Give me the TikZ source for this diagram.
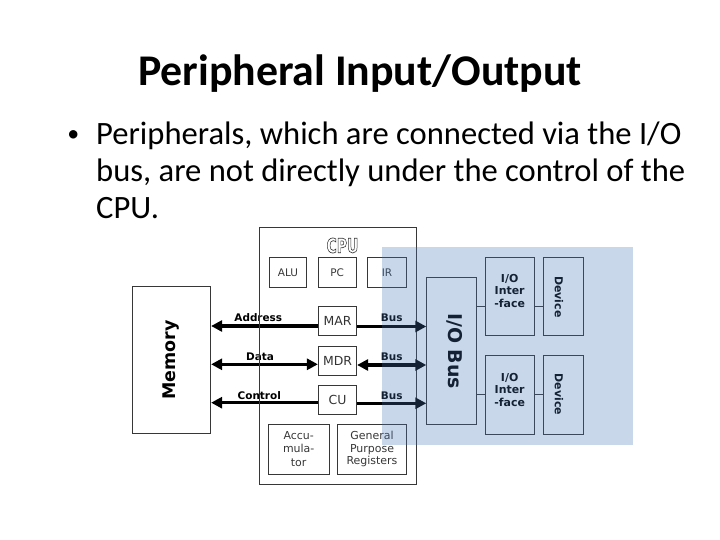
\documentclass[tikz,border=0pt]{standalone}
\usepackage{fontspec}
\setmainfont{DejaVu Sans}
\newfontfamily\carlito{Carlito}
\usetikzlibrary{arrows.meta}
\definecolor{boxline}{RGB}{55,55,55}
\definecolor{overlaycol}{RGB}{69,117,183}
\newcommand{\hollowtext}[1]{\special{pdf:literal direct 1 Tr 0.7 w}#1\special{pdf:literal direct 0 Tr}}
\begin{document}
\begin{tikzpicture}[x=1bp,y=-1bp,
  box/.style={draw=boxline, line width=0.8bp, inner sep=0pt},
  lbl/.style={text=boxline, inner sep=0pt, font=\fontsize{10.5}{13}\selectfont, align=center},
  reg/.style={box, text=black!80, font=\fontsize{12.5}{14}\selectfont},
  blbl/.style={inner sep=0pt, font=\bfseries\fontsize{10.5}{12}\selectfont},
  bullettext/.style={anchor=base west, inner sep=0pt, font=\carlito\fontsize{32.7}{36}\selectfont},
  bigtip/.tip={Triangle[length=11bp,width=11bp]},
  bigarrow/.style={line width=3.4bp, black},
  thinline/.style={draw=boxline, line width=0.8bp}]
\useasboundingbox (0,0) rectangle (720,540);

% title and bullet text
\node[anchor=base, inner sep=0pt, font=\carlito\bfseries\fontsize{44}{48}\selectfont] (title) at (360,85.2) {Peripheral Input/Output};
\node[anchor=base, inner sep=0pt, font=\carlito\fontsize{24}{28}\selectfont] (bullet) at (73.3,142) {•};
\node[bullettext] (l1) at (96,145) {Peripherals, which are connected via the I/O};
\node[bullettext] (l2) at (96,181.7) {bus, are not directly under the control of the};
\node[bullettext] (l3) at (96,218.3) {CPU.};

% CPU
\node[box, minimum width=156.7bp, minimum height=256.7bp] (cpu) at (337.65,355.65) {};
\node[inner sep=0pt, font=\bfseries\fontsize{20}{20}\selectfont, text=boxline] (cpulbl) at (342.5,245.5) {\scalebox{0.7}[1]{\hollowtext{CPU}}};
\node[box, minimum width=37.4bp, minimum height=30.4bp, lbl] (alu) at (288,272.5) {ALU};
\node[box, minimum width=37.7bp, minimum height=30.4bp, lbl] (pc) at (337.2,272.5) {PC};
\node[box, minimum width=39.4bp, minimum height=30.4bp, lbl] (ir) at (387,272.5) {IR};
\node[reg, minimum width=38.4bp, minimum height=28.3bp] (mar) at (337.5,320.8) {MAR};
\node[reg, minimum width=38.4bp, minimum height=29bp] (mdr) at (337.5,360.5) {MDR};
\node[reg, minimum width=38.4bp, minimum height=28.3bp] (cu) at (337.5,399.8) {CU};
\node[box, minimum width=60.7bp, minimum height=50bp, lbl, font=\fontsize{11}{13.3}\selectfont] (acc) at (298.7,449) {Accu-\\mula-\\tor};
\node[box, minimum width=69.4bp, minimum height=50bp, lbl, font=\fontsize{11}{12.5}\selectfont] (gpr) at (372,449) {General\\Purpose\\Registers};

% Memory
\node[box, minimum width=78.7bp, minimum height=146.6bp] (mem) at (171.35,360) {};
\node[rotate=90, inner sep=0pt, font=\bfseries\fontsize{17.5}{17.5}\selectfont] (memlbl) at (mem.center) {Memory};

% I/O side
\node[box, minimum width=49.3bp, minimum height=146.6bp] (iobus) at (451.35,351) {};
\node[rotate=-90, inner sep=0pt, font=\bfseries\fontsize{19}{19}\selectfont] (iobuslbl) at (455,351) {I/O Bus};
\node[box, minimum width=49.3bp, minimum height=78.4bp] (if1) at (509.65,296.5) {};
\node[box, minimum width=49.3bp, minimum height=78.6bp] (if2) at (509.65,395) {};
\node[box, minimum width=40bp, minimum height=78.4bp] (dev1) at (563.3,296.5) {};
\node[box, minimum width=40bp, minimum height=78.6bp] (dev2) at (563.3,395) {};
\node[inner sep=0pt, align=center, font=\bfseries\fontsize{11}{12.5}\selectfont] (if1lbl) at (509.65,291) {I/O\\Inter\\-face};
\node[inner sep=0pt, align=center, font=\bfseries\fontsize{11}{12.5}\selectfont] (if2lbl) at (509.65,389.7) {I/O\\Inter\\-face};
\node[rotate=-90, inner sep=0pt, font=\bfseries\fontsize{11}{12}\selectfont] (dev1lbl) at (559,297) {Device};
\node[rotate=-90, inner sep=0pt, font=\bfseries\fontsize{11}{12}\selectfont] (dev2lbl) at (559,394.5) {Device};

\draw[thinline] (iobus.east |- 0,306.7) -- (if1.west |- 0,306.7);
\draw[thinline] (if1.east |- 0,306.7) -- (dev1.west |- 0,306.7);
\draw[thinline] (iobus.east |- 0,394) -- (if2.west |- 0,394);
\draw[thinline] (if2.east |- 0,394) -- (dev2.west |- 0,394);

% buses to memory
\draw[bigarrow, -bigtip] (mar.west |- 0,326) -- (mem.east |- 0,326);
\draw[bigarrow, bigtip-bigtip] (mem.east |- 0,364.3) -- (mdr.west |- 0,364.3);
\draw[bigarrow, -bigtip] (cu.west |- 0,402.7) -- (mem.east |- 0,402.7);
\node[blbl] (addr) at (258.3,317.7) {Address};
\node[blbl] (data) at (260,356.7) {Data};
\node[blbl] (ctrl) at (259.3,395.7) {Control};

% buses to I/O bus
\draw[bigarrow, -bigtip] (mar.east |- 0,326.5) -- (iobus.west |- 0,326.5);
\draw[bigarrow, bigtip-bigtip] (mdr.east |- 0,365) -- (iobus.west |- 0,365);
\draw[bigarrow, -bigtip] (cu.east |- 0,403.3) -- (iobus.west |- 0,403.3);
\node[blbl] (bus1) at (391.7,317.7) {Bus};
\node[blbl] (bus2) at (391.7,356.5) {Bus};
\node[blbl] (bus3) at (391.7,395.5) {Bus};

% CPU left edge over arrows
\draw[thinline] (cpu.north west) -- (cpu.south west);

% blue overlay
\fill[overlaycol, fill opacity=0.29] (381.7,247) rectangle (633.3,445);
\end{tikzpicture}
\end{document}
